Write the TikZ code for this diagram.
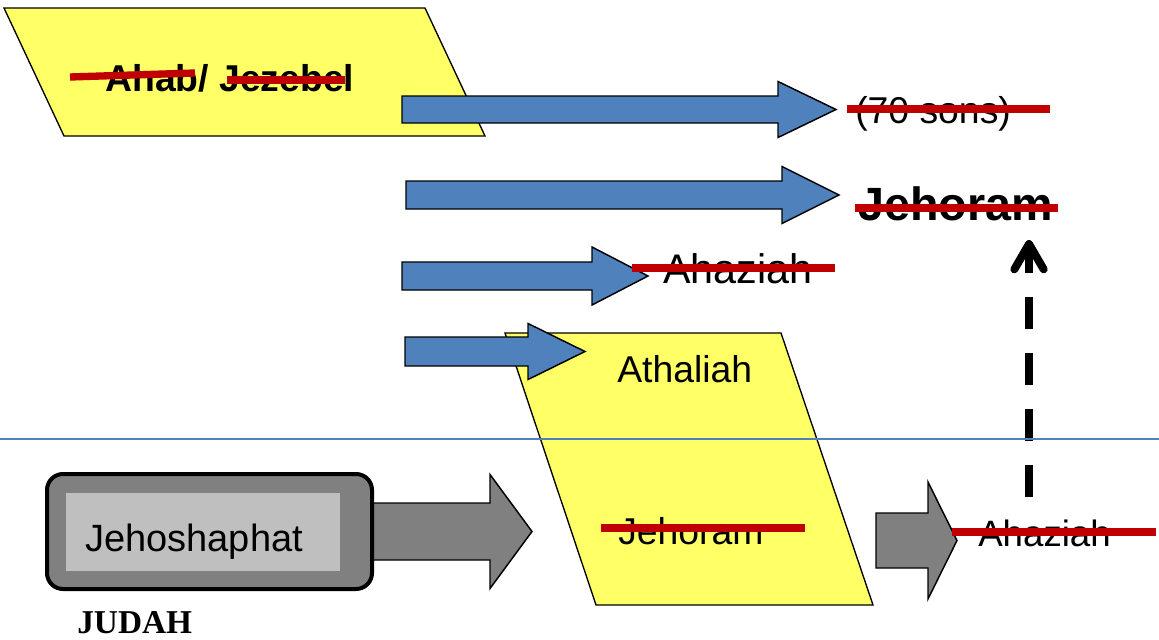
\documentclass[tikz,border=0pt]{standalone}
\usepackage{fontspec}
\setmainfont{Liberation Sans}
\newfontfamily\judahfont{Liberation Serif}
\usepackage{tikz}
\usetikzlibrary{arrows.meta}

\definecolor{padyellow}{HTML}{FFFF66}
\definecolor{arrowblue}{HTML}{4F81BD}
\definecolor{arrowgrey}{HTML}{808080}
\definecolor{boxgrey}{HTML}{BFBFBF}
\definecolor{strikered}{HTML}{C00000}

% left x, head base x, tip x, centre y, shaft half, head half
\newcommand{\fatarrow}[7]{%
	\draw[#1] (#2,#5-#6) -- (#3,#5-#6) -- (#3,#5-#7) -- (#4,#5)
		-- (#3,#5+#7) -- (#3,#5+#6) -- (#2,#5+#6) -- cycle;}

\begin{document}
\begin{tikzpicture}[x=0.75pt,y=-0.75pt,
	pad/.style={draw=black,line width=1pt,fill=padyellow},
	bluearrow/.style={draw=black,line width=1.1pt,fill=arrowblue},
	greyarrow/.style={draw=black,line width=1.1pt,fill=arrowgrey},
	king/.style={inner sep=0pt,anchor=base west,font=\fontsize{28}{32}\selectfont},
	strike/.style={draw=strikered,line width=5.5pt},
	dasharrow/.style={draw=black,line width=6pt,dash pattern=on 24pt off 18pt,
		-{Straight Barb[length=19pt,width=22pt,round]}}]
	\useasboundingbox (0,0) rectangle (1159,639);

	% israel
	\draw[pad] (4,8) -- (425,8) -- (485,136) -- (64,136) -- cycle;
	\draw[pad] (505,333) -- (781,333) -- (873,605) -- (596,605) -- cycle;
	\fatarrow{bluearrow}{402}{778}{836}{109.5}{13.5}{28}
	\fatarrow{bluearrow}{406}{782}{839}{195}{14}{28.5}
	\fatarrow{bluearrow}{402}{592}{648}{276}{14}{29}
	\fatarrow{bluearrow}{405}{528}{585}{351.5}{14.5}{28}

	\node[king,font=\fontsize{28}{32}\selectfont\bfseries] (ahab) at (105,91) {Ahab/ Jezebel};
	\node[king] (sons) at (855,123) {(70 sons)};
	\node[king,font=\fontsize{35}{40}\selectfont\bfseries] (jehoramI) at (858,220) {Jehoram};
	\node[king,font=\fontsize{31}{36}\selectfont] (ahaziahI) at (663,283) {Ahaziah};
	\node[king] (athaliah) at (617,382) {Athaliah};
	\node[king] (jehoramII) at (618,544) {Jehoram};

	% judah
	\fatarrow{greyarrow}{360}{490}{532}{531.5}{28.5}{57}
	\draw[draw=black,line width=3pt,fill=arrowgrey,rounded corners=12pt]
		(47,474) rectangle (372,589);
	\fill[boxgrey] (66,493) rectangle (340,571);
	\node[king,font=\fontsize{28.5}{32}\selectfont] (jehoshaphat) at (85,551) {Jehoshaphat};
	\node[inner sep=0pt,anchor=base west,font=\judahfont\fontsize{25}{28}\selectfont\bfseries]
		(judah) at (77,633) {JUDAH};
	\fatarrow{greyarrow}{876}{928}{957}{540.5}{27.5}{58.5}
	\node[king,font=\fontsize{27.5}{32}\selectfont] (ahaziahII) at (978,546) {Ahaziah};

	% struck out
	\draw[strike] (70,77) -- (195,73);
	\draw[strike] (227,80) -- (345,80);
	\draw[strike] (847,109) -- (1050,109);
	\draw[strike] (855,208) -- (1058,208);
	\draw[strike] (632,268) -- (835,268);
	\draw[strike] (601,528) -- (805,528);
	\draw[strike] (952,532) -- (1156,532);

	\coordinate (dashfrom) at (1029,497);
	\coordinate (dashto) at (1029,240);
	\draw[dasharrow] (dashfrom) -- (dashto);

	\draw[draw=arrowblue,line width=1.1pt] (0,439) -- (1159,439);
\end{tikzpicture}
\end{document}
